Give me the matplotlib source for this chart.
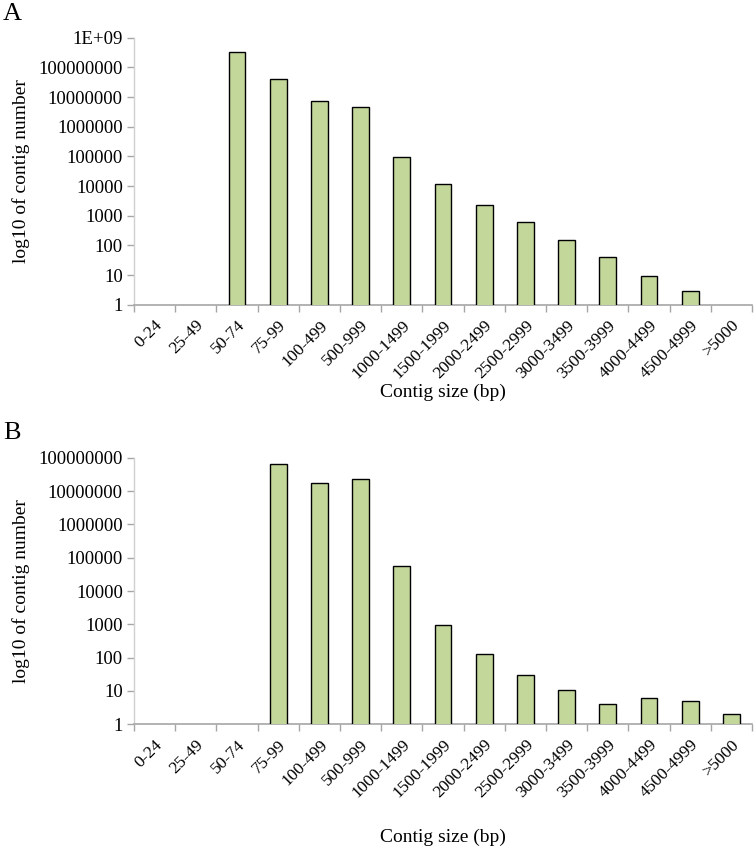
import numpy as np
import matplotlib
matplotlib.use("Agg")
import matplotlib.pyplot as plt
from matplotlib.ticker import FixedLocator, FixedFormatter

plt.rcParams['font.family'] = ['Liberation Serif', 'DejaVu Serif']

categories = ["0-24", "25-49", "50-74", "75-99", "100-499", "500-999", "1000-1499",
              "1500-1999", "2000-2499", "2500-2999", "3000-3499", "3500-3999",
              "4000-4499", "4500-4999", ">5000"]

counts_A = [np.nan, np.nan, 3.2e8, 4.0e7, 7.2e6, 4.5e6, 9.3e4, 1.2e4, 2300, 600, 150, 40, 9, 3, np.nan]
counts_B = [np.nan, np.nan, np.nan, 6.5e7, 1.8e7, 2.3e7, 5.6e4, 950, 125, 30, 11, 4, 6, 5, 2]

yticks_A = [1, 10, 100, 1000, 1e4, 1e5, 1e6, 1e7, 1e8, 1e9]
ylabels_A = ["1", "10", "100", "1000", "10000", "100000", "1000000", "10000000", "100000000", "1E+09"]
yticks_B = [1, 10, 100, 1000, 1e4, 1e5, 1e6, 1e7, 1e8]
ylabels_B = ["1", "10", "100", "1000", "10000", "100000", "1000000", "10000000", "100000000"]

fig = plt.figure(figsize=(7.54, 8.5), dpi=100)
W, H = 754, 850

def make_ax(top_px, bottom_px):
    left, right = 134, 752
    return fig.add_axes([left / W, 1 - bottom_px / H, (right - left) / W, (bottom_px - top_px) / H])

axA = make_ax(37.7, 304.7)
axB = make_ax(457.7, 724.3)

bar_color = "#C4D79B"

def draw(ax, counts, yticks, ylabels, letter, ly, xly):
    x = np.arange(len(categories))
    vals = np.array(counts, dtype=float)
    mask = ~np.isnan(vals)
    ax.set_yscale('log')
    ax.bar(x[mask], vals[mask], width=0.41, bottom=0, color=bar_color,
           edgecolor='black', linewidth=1.0, zorder=3)
    ax.set_xlim(-0.5, len(categories) - 0.5)
    ax.set_ylim(yticks[0], yticks[-1])
    ax.yaxis.set_major_locator(FixedLocator(yticks))
    ax.yaxis.set_major_formatter(FixedFormatter(ylabels))
    ax.yaxis.set_minor_locator(FixedLocator([]))
    ax.set_xticks(x)
    ax.set_xticklabels(categories, rotation=45, ha='right', rotation_mode='anchor', fontsize=12.5)
    ax.tick_params(axis='x', length=0, pad=9)
    ax.set_xticks(np.arange(-0.5, len(categories) + 0.5, 1.0), minor=True)
    ax.tick_params(axis='x', which='minor', length=5, color='#a6a6a6', width=1)
    ax.tick_params(axis='y', length=5, color='#a6a6a6', width=1, labelsize=13.5, pad=3)
    for s in ['top', 'right']:
        ax.spines[s].set_visible(False)
    ax.spines['left'].set_color('#d0d0d0')
    ax.spines['bottom'].set_color('#a6a6a6')
    ax.spines['left'].set_linewidth(1)
    ax.spines['bottom'].set_linewidth(1.2)
    ax.set_xlabel("Contig size (bp)", fontsize=14, va='center')
    ax.xaxis.set_label_coords(0.5, xly)
    ax.set_ylabel("log10 of contig number", fontsize=14, labelpad=6)
    ax.text(-0.212, ly, letter, transform=ax.transAxes,
            fontsize=19, va='center', ha='left')

draw(axA, counts_A, yticks_A, ylabels_A, 'A', 1.089, (304.7 - 392) / 267)
draw(axB, counts_B, yticks_B, ylabels_B, 'B', 1.093, (724.3 - 837) / 266.6)

fig.savefig("out.png", dpi=100)
